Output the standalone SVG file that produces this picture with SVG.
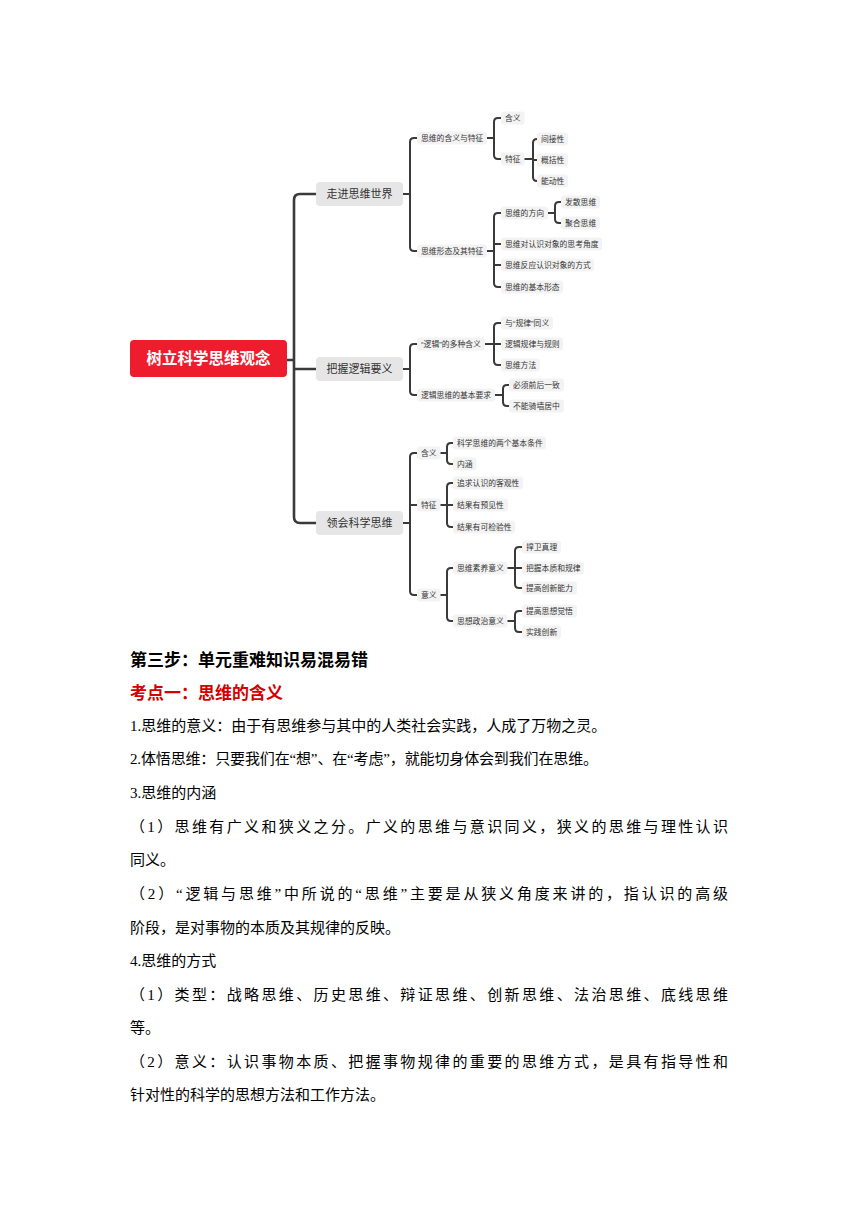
<svg xmlns="http://www.w3.org/2000/svg" width="860" height="1216" viewBox="0 0 860 1216">
<style>
.ln{fill:none;stroke:#3a3a3a;stroke-width:2;stroke-linecap:round;stroke-linejoin:round}
.tk{stroke-width:2.6}
.lb{fill:#f3f3f3}
.t8{font-family:"Liberation Sans","Noto Sans CJK SC",sans-serif;font-size:7.8px;fill:#333}
.l1r{fill:#e6e6e6}
.t11{font-family:"Noto Sans CJK SC",sans-serif;font-size:11px;fill:#333;text-anchor:middle}
.root{fill:#ee1d2e}
.tr{font-family:"Noto Sans CJK SC",sans-serif;font-size:15.5px;font-weight:bold;fill:#fff;text-anchor:middle}
.bd{font-family:"Liberation Serif","Noto Sans CJK SC",serif;font-size:15px;fill:#000}
.hd{font-family:"Noto Sans CJK SC",sans-serif;font-size:17px;font-weight:bold}
</style>
<rect width="860" height="1216" fill="#fff"/>

<g id="connectors">
<path class="ln tk" d="M287 360 H294 M316 194 H300 Q294 194 294 200 V517 Q294 523 300 523 H316 M294 369 H316"/>
<path class="ln" d="M403 194 H410 M417 138 H414 Q410 138 410 142 V247 Q410 251 414 251 H417"/>
<path class="ln" d="M487 138 H494 M501 118 H498 Q494 118 494 122 V155 Q494 159 498 159 H501"/>
<path class="ln" d="M524.5 159 H533 M537 139 Q533 139 533 143 V177 Q533 181 537 181 M533 160 H537"/>
<path class="ln" d="M487 251 H494 M501 213 H498 Q494 213 494 217 V283 Q494 287 498 287 H501 M494 244 H501 M494 265 H501"/>
<path class="ln" d="M548 213 H555 M561 202 H559 Q555 202 555 206 V219 Q555 223 559 223 H561"/>
<path class="ln" d="M403 369 H410 M417 344 H414 Q410 344 410 348 V391 Q410 395 414 395 H417"/>
<path class="ln" d="M485 344 H494 M501 323 H498 Q494 323 494 327 V361 Q494 365 498 365 H501 M494 344 H501"/>
<path class="ln" d="M495 395 H503 M509 385 H507 Q503 385 503 389 V402 Q503 406 507 406 H509"/>
<path class="ln" d="M403 523 H410 M417 453 H414 Q410 453 410 457 V591 Q410 595 414 595 H417 M410 505 H417"/>
<path class="ln" d="M440.5 453 H447 M453 443 H451 Q447 443 447 447 V460 Q447 464 451 464 H453"/>
<path class="ln" d="M440.5 505 H447 M453 483 H451 Q447 483 447 487 V523 Q447 527 451 527 H453 M447 505 H453"/>
<path class="ln" d="M440.5 595 H447 M453 568 H451 Q447 568 447 572 V617 Q447 621 451 621 H453"/>
<path class="ln" d="M507.5 568 H515 M522 547 H519 Q515 547 515 551 V584 Q515 588 519 588 H522 M515 568 H522"/>
<path class="ln" d="M507.5 621 H515 M522 611 H519 Q515 611 515 615 V628 Q515 632 519 632 H522"/>
</g>

<g id="root"><rect class="root" x="130" y="340" width="157" height="37" rx="4"/><text class="tr" x="208.5" y="364">树立科学思维观念</text></g>

<g id="n-zoujin"><rect class="l1r" x="316" y="182" width="87" height="24" rx="4"/><text class="t11" x="359.5" y="198">走进思维世界</text></g>
<g id="n-bawo"><rect class="l1r" x="316" y="357" width="87" height="24" rx="4"/><text class="t11" x="359.5" y="373">把握逻辑要义</text></g>
<g id="n-linghui"><rect class="l1r" x="316" y="511" width="87" height="24" rx="4"/><text class="t11" x="359.5" y="527">领会科学思维</text></g>

<g id="n-hanyi-tezheng"><rect class="lb" x="417" y="131.5" width="70" height="13" rx="3"/><text class="t8" x="421" y="140.8">思维的含义与特征</text></g>
<g id="n-hanyi1"><rect class="lb" x="501" y="111.5" width="23.5" height="13" rx="3"/><text class="t8" x="505" y="120.8">含义</text></g>
<g id="n-tezheng1"><rect class="lb" x="501" y="152.5" width="23.5" height="13" rx="3"/><text class="t8" x="505" y="161.8">特征</text></g>
<g id="n-jianjie"><rect class="lb" x="537" y="132.5" width="31" height="13" rx="3"/><text class="t8" x="541" y="141.8">间接性</text></g>
<g id="n-gaikuo"><rect class="lb" x="537" y="153.5" width="31" height="13" rx="3"/><text class="t8" x="541" y="162.8">概括性</text></g>
<g id="n-nengdong"><rect class="lb" x="537" y="174.5" width="31" height="13" rx="3"/><text class="t8" x="541" y="183.8">能动性</text></g>

<g id="n-xingtai"><rect class="lb" x="417" y="244.5" width="70" height="13" rx="3"/><text class="t8" x="421" y="253.8">思维形态及其特征</text></g>
<g id="n-fangxiang"><rect class="lb" x="501" y="206.5" width="47" height="13" rx="3"/><text class="t8" x="505" y="215.8">思维的方向</text></g>
<g id="n-fasan"><rect class="lb" x="561" y="195.5" width="39" height="13" rx="3"/><text class="t8" x="565" y="204.8">发散思维</text></g>
<g id="n-juhe"><rect class="lb" x="561" y="216.5" width="39" height="13" rx="3"/><text class="t8" x="565" y="225.8">聚合思维</text></g>
<g id="n-jiaodu"><rect class="lb" x="501" y="237.5" width="101" height="13" rx="3"/><text class="t8" x="505" y="246.8">思维对认识对象的思考角度</text></g>
<g id="n-fangshi"><rect class="lb" x="501" y="258.5" width="93" height="13" rx="3"/><text class="t8" x="505" y="267.8">思维反应认识对象的方式</text></g>
<g id="n-jiben"><rect class="lb" x="501" y="280.5" width="62" height="13" rx="3"/><text class="t8" x="505" y="289.8">思维的基本形态</text></g>

<g id="n-luoji"><rect class="lb" x="417" y="337.5" width="68" height="13" rx="3"/><text class="t8" x="421" y="346.8">“逻辑”的多种含义</text></g>
<g id="n-guilv"><rect class="lb" x="501" y="316.5" width="52" height="13" rx="3"/><text class="t8" x="505" y="325.8">与“规律”同义</text></g>
<g id="n-guize"><rect class="lb" x="501" y="337.5" width="62" height="13" rx="3"/><text class="t8" x="505" y="346.8">逻辑规律与规则</text></g>
<g id="n-fangfa"><rect class="lb" x="501" y="358.5" width="39" height="13" rx="3"/><text class="t8" x="505" y="367.8">思维方法</text></g>
<g id="n-yaoqiu"><rect class="lb" x="417" y="388.5" width="78" height="13" rx="3"/><text class="t8" x="421" y="397.8">逻辑思维的基本要求</text></g>
<g id="n-yizhi"><rect class="lb" x="509" y="378.5" width="55" height="13" rx="3"/><text class="t8" x="513" y="387.8">必须前后一致</text></g>
<g id="n-qiqiang"><rect class="lb" x="509" y="399.5" width="55" height="13" rx="3"/><text class="t8" x="513" y="408.8">不能骑墙居中</text></g>

<g id="n-hanyi3"><rect class="lb" x="417" y="446.5" width="23.5" height="13" rx="3"/><text class="t8" x="421" y="455.8">含义</text></g>
<g id="n-tiaojian"><rect class="lb" x="453" y="436.5" width="93" height="13" rx="3"/><text class="t8" x="457" y="445.8">科学思维的两个基本条件</text></g>
<g id="n-neihan"><rect class="lb" x="453" y="457.5" width="23.5" height="13" rx="3"/><text class="t8" x="457" y="466.8">内涵</text></g>
<g id="n-tezheng3"><rect class="lb" x="417" y="498.5" width="23.5" height="13" rx="3"/><text class="t8" x="421" y="507.8">特征</text></g>
<g id="n-keguan"><rect class="lb" x="453" y="476.5" width="70" height="13" rx="3"/><text class="t8" x="457" y="485.8">追求认识的客观性</text></g>
<g id="n-yujian"><rect class="lb" x="453" y="498.5" width="55" height="13" rx="3"/><text class="t8" x="457" y="507.8">结果有预见性</text></g>
<g id="n-jianyan"><rect class="lb" x="453" y="520.5" width="62" height="13" rx="3"/><text class="t8" x="457" y="529.8">结果有可检验性</text></g>
<g id="n-yiyi"><rect class="lb" x="417" y="588.5" width="23.5" height="13" rx="3"/><text class="t8" x="421" y="597.8">意义</text></g>
<g id="n-suyang"><rect class="lb" x="453" y="561.5" width="54.5" height="13" rx="3"/><text class="t8" x="457" y="570.8">思维素养意义</text></g>
<g id="n-zhenli"><rect class="lb" x="522" y="540.5" width="39" height="13" rx="3"/><text class="t8" x="526" y="549.8">捍卫真理</text></g>
<g id="n-benzhi"><rect class="lb" x="522" y="561.5" width="62" height="13" rx="3"/><text class="t8" x="526" y="570.8">把握本质和规律</text></g>
<g id="n-chuangxin"><rect class="lb" x="522" y="581.5" width="55" height="13" rx="3"/><text class="t8" x="526" y="590.8">提高创新能力</text></g>
<g id="n-zhengzhi"><rect class="lb" x="453" y="614.5" width="54.5" height="13" rx="3"/><text class="t8" x="457" y="623.8">思想政治意义</text></g>
<g id="n-juewu"><rect class="lb" x="522" y="604.5" width="55" height="13" rx="3"/><text class="t8" x="526" y="613.8">提高思想觉悟</text></g>
<g id="n-shijian"><rect class="lb" x="522" y="625.5" width="39" height="13" rx="3"/><text class="t8" x="526" y="634.8">实践创新</text></g>

<g id="body-text">
<text class="hd" x="130" y="666" fill="#000">第三步：单元重难知识易混易错</text>
<text class="hd" x="130" y="699" fill="#d40000">考点一：思维的含义</text>
<text class="bd" x="130" y="730.5">1.思维的意义：由于有思维参与其中的人类社会实践，人成了万物之灵。</text>
<text class="bd" x="130" y="763.5" textLength="468" lengthAdjust="spacing">2.体悟思维：只要我们在“想”、在“考虑”，就能切身体会到我们在思维。</text>
<text class="bd" x="130" y="797.5">3.思维的内涵</text>
<text class="bd" x="130" y="831.5" textLength="598" lengthAdjust="spacing">（1）思维有广义和狭义之分。广义的思维与意识同义，狭义的思维与理性认识</text>
<text class="bd" x="130" y="864.5">同义。</text>
<text class="bd" x="130" y="898.5" textLength="598" lengthAdjust="spacing">（2）“逻辑与思维”中所说的“思维”主要是从狭义角度来讲的，指认识的高级</text>
<text class="bd" x="130" y="932.5">阶段，是对事物的本质及其规律的反映。</text>
<text class="bd" x="130" y="965.5">4.思维的方式</text>
<text class="bd" x="130" y="999.5" textLength="598" lengthAdjust="spacing">（1）类型：战略思维、历史思维、辩证思维、创新思维、法治思维、底线思维</text>
<text class="bd" x="130" y="1032.5">等。</text>
<text class="bd" x="130" y="1066.5" textLength="598" lengthAdjust="spacing">（2）意义：认识事物本质、把握事物规律的重要的思维方式，是具有指导性和</text>
<text class="bd" x="130" y="1099.5">针对性的科学的思想方法和工作方法。</text>
</g>
</svg>
